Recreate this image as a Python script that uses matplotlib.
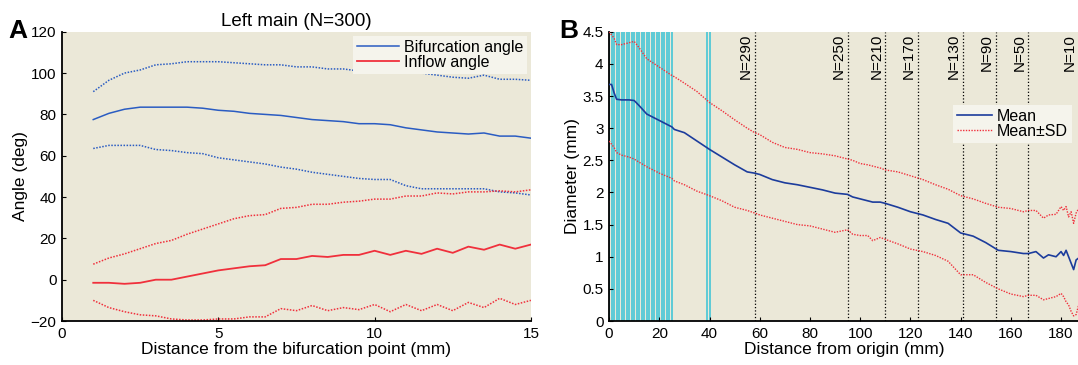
import matplotlib
matplotlib.use("Agg")
import matplotlib.pyplot as plt
import numpy as np

plt.rcParams['font.family'] = ['Liberation Sans', 'DejaVu Sans']
plt.rcParams['axes.unicode_minus'] = True

### PANEL A DATA ###
dist_a = [1, 1.5, 2, 2.5, 3, 3.5, 4, 4.5, 5, 5.5, 6, 6.5, 7, 7.5, 8, 8.5, 9, 9.5,
          10, 10.5, 11, 11.5, 12, 12.5, 13, 13.5, 14, 14.5, 15]
bif_mean = [77.5, 80.5, 82.5, 83.5, 83.5, 83.5, 83.5, 83, 82, 81.5, 80.5, 80, 79.5, 78.5,
            77.5, 77, 76.5, 75.5, 75.5, 75, 73.5, 72.5, 71.5, 71, 70.5, 71, 69.5, 69.5, 68.5]
bif_upper = [91, 96.5, 100, 101.5, 104, 104.5, 105.5, 105.5, 105.5, 105, 104.5, 104, 104, 103,
             103, 102, 102, 101, 101, 101, 101, 100, 99, 98, 97.5, 99, 97, 97, 96.5]
bif_lower = [63.5, 65, 65, 65, 63, 62.5, 61.5, 61, 59, 58, 57, 56, 54.5, 53.5,
             52, 51, 50, 49, 48.5, 48.5, 45.5, 44, 44, 44, 44, 44, 42.5, 42, 41]
inf_mean = [-1.5, -1.5, -2, -1.5, 0, 0, 1.5, 3, 4.5, 5.5, 6.5, 7, 10, 10,
            11.5, 11, 12, 12, 14, 12, 14, 12.5, 15, 13, 16, 14.5, 17, 15, 17]
inf_upper = [7.5, 10.5, 12.5, 15, 17.5, 19, 22, 24.5, 27, 29.5, 31, 31.5, 34.5, 35,
             36.5, 36.5, 37.5, 38, 39, 39, 40.5, 40.5, 42, 41.5, 42.5, 42.5, 43, 42.5, 43.5]
inf_lower = [-10, -13.5, -15.5, -17, -17.5, -19, -19.5, -19.5, -19, -19, -18, -18, -14, -15,
             -12.5, -15, -13.5, -14.5, -12, -15.5, -12, -15, -12, -15, -11, -13.5, -9, -12, -10]

### PANEL B DATA ###
dist_b = [0, 1, 2, 3, 5, 8, 10, 12, 15, 20, 25, 26, 30, 35, 40, 45, 50, 55, 58, 60, 65, 70,
          75, 80, 85, 90, 95, 97, 100, 103, 105, 108, 110, 115, 120, 125, 130, 135, 140,
          145, 150, 155, 160, 165, 167, 170, 173, 175, 178, 180, 181, 182, 183, 184, 185, 186, 187]
diam_mean = [3.68, 3.68, 3.55, 3.45, 3.44, 3.44, 3.43, 3.35, 3.22, 3.12, 3.02, 2.98, 2.93, 2.8,
             2.67, 2.55, 2.43, 2.32, 2.3, 2.28, 2.2, 2.15, 2.12, 2.08, 2.04, 1.99, 1.97, 1.93,
             1.9, 1.87, 1.85, 1.85, 1.83, 1.77, 1.7, 1.65, 1.58, 1.52, 1.37, 1.32, 1.22, 1.1,
             1.08, 1.05, 1.05, 1.08, 0.98, 1.03, 1.0, 1.08, 1.02, 1.1, 1.0, 0.9, 0.8, 0.95, 0.98]
diam_upper = [4.5, 4.45, 4.4, 4.3, 4.3, 4.33, 4.35, 4.25, 4.08, 3.95, 3.82, 3.8, 3.7, 3.57,
              3.4, 3.27, 3.13, 3.0, 2.93, 2.9, 2.78, 2.7, 2.67, 2.62, 2.6, 2.57, 2.52, 2.5,
              2.45, 2.43, 2.41, 2.38, 2.35, 2.32, 2.26, 2.2, 2.12, 2.05, 1.95, 1.9, 1.83, 1.77,
              1.75, 1.7, 1.72, 1.72, 1.6, 1.65, 1.66, 1.78, 1.72, 1.78, 1.62, 1.7, 1.52, 1.68, 1.75]
diam_lower = [2.8, 2.75, 2.7, 2.62, 2.58, 2.55, 2.52, 2.47, 2.4, 2.3, 2.22, 2.18, 2.12, 2.02,
              1.95, 1.87, 1.77, 1.72, 1.68, 1.65, 1.6, 1.55, 1.5, 1.48, 1.43, 1.38, 1.42, 1.35,
              1.33, 1.33, 1.25, 1.3, 1.27, 1.2, 1.12, 1.08, 1.02, 0.93, 0.72, 0.72, 0.6, 0.5,
              0.42, 0.38, 0.4, 0.4, 0.33, 0.35, 0.38, 0.43, 0.38, 0.3, 0.25, 0.15, 0.08, 0.1, 0.25]

# positions with N=300 (cyan) and the sample-size markers
full_n_x = list(range(0, 26)) + [39, 40]
n_marks = [58, 95, 110, 123, 141, 154, 167, 187]
n_labels = ['N=290', 'N=250', 'N=210', 'N=170', 'N=130', 'N=90', 'N=50', 'N=10']

bg = '#EBE8D8'
blue = '#2A5CC2'
navy = '#1C3C9C'
red = '#F0303C'
dots = (0, (1, 1))

fig = plt.figure(figsize=(10.78, 3.65), dpi=100)
axA = fig.add_axes([0.0575, 0.1205, 0.435, 0.7925])
axB = fig.add_axes([0.565, 0.1205, 0.437, 0.7925])

for ax in (axA, axB):
    ax.set_facecolor(bg)
    ax.spines['top'].set_visible(False)
    ax.spines['right'].set_visible(False)
    ax.spines['left'].set_linewidth(1.3)
    ax.spines['bottom'].set_linewidth(1.3)
    ax.tick_params(direction='in', length=3, labelsize=11, pad=4)

#### Panel A
axA.plot(dist_a, bif_mean, color=blue, lw=1.1, label='Bifurcation angle')
axA.plot(dist_a, bif_upper, color=blue, lw=1.1, ls=dots)
axA.plot(dist_a, bif_lower, color=blue, lw=1.1, ls=dots)
axA.plot(dist_a, inf_mean, color=red, lw=1.3, label='Inflow angle')
axA.plot(dist_a, inf_upper, color=red, lw=1.1, ls=dots)
axA.plot(dist_a, inf_lower, color=red, lw=1.1, ls=dots)
axA.set_xlim(0, 15)
axA.set_ylim(-20, 120)
axA.set_xticks([0, 5, 10, 15])
axA.set_yticks(range(-20, 121, 20))
axA.set_xlabel('Distance from the bifurcation point (mm)', fontsize=12.5, labelpad=1)
axA.set_ylabel('Angle (deg)', fontsize=12.5, labelpad=2)
axA.set_title('Left main (N=300)', fontsize=13.5, pad=4)
legA = axA.legend(loc='upper right', fontsize=11.5, frameon=True, fancybox=False,
                  handlelength=2.6, handletextpad=0.3, labelspacing=0.0,
                  borderpad=0.25, borderaxespad=0.25)
legA.get_frame().set_facecolor('#F5F4EC')
legA.get_frame().set_edgecolor('none')
legA.get_frame().set_alpha(1)

#### Panel B
for xv in full_n_x:
    axB.axvline(xv, color='#45C6D6', lw=1.2, zorder=1)
for xv, lab in zip(n_marks, n_labels):
    axB.axvline(xv, color='black', lw=0.9, ls=':', zorder=2)
    axB.text(xv - 0.8, 4.47, lab, rotation=90, ha='right', va='top', fontsize=11)
axB.plot(dist_b, diam_mean, color=navy, lw=1.2, label='Mean', zorder=3)
axB.plot(dist_b, diam_upper, color=red, lw=1.0, ls=dots, label='Mean±SD', zorder=3)
axB.plot(dist_b, diam_lower, color=red, lw=1.0, ls=dots, zorder=3)
axB.set_xlim(0, 187.6)
axB.set_ylim(0, 4.5)
axB.set_xticks(range(0, 181, 20))
axB.set_yticks([0, 0.5, 1, 1.5, 2, 2.5, 3, 3.5, 4, 4.5])
axB.set_yticklabels(['0', '0.5', '1', '1.5', '2', '2.5', '3', '3.5', '4', '4.5'])
axB.set_xlabel('Distance from origin (mm)', fontsize=12.5, labelpad=1)
axB.set_ylabel('Diameter (mm)', fontsize=12.5, labelpad=2)
legB = axB.legend(loc='upper right', bbox_to_anchor=(1.0, 0.775), fontsize=11.5, frameon=True,
                  fancybox=False, handlelength=2.2, handletextpad=0.3, labelspacing=0.0,
                  borderpad=0.25)
legB.get_frame().set_facecolor('#F5F4EC')
legB.get_frame().set_edgecolor('none')
legB.get_frame().set_alpha(1)

fig.text(0.008, 0.895, 'A', fontsize=19, fontweight='bold')
fig.text(0.519, 0.895, 'B', fontsize=19, fontweight='bold')

plt.savefig('out.png', dpi=100)
